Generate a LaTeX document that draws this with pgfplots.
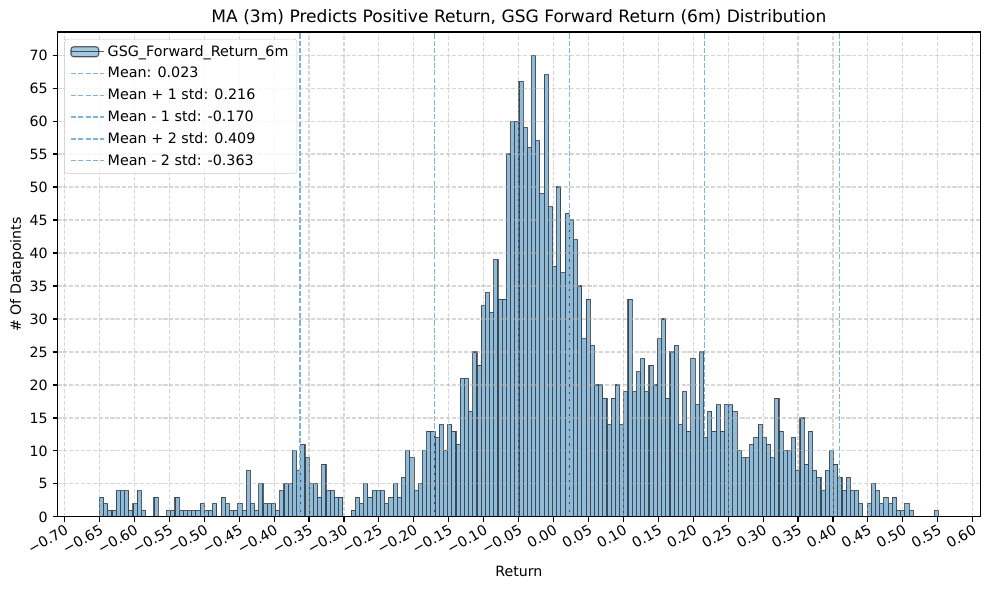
\documentclass[border=0pt]{standalone}
\usepackage{pgfplots}
\pgfplotsset{compat=1.18}
\usepackage{pgfplotstable}
\usepackage{fontspec}
\setmainfont{DejaVu Sans}

\definecolor{barfill}{HTML}{8FBBD9}
\definecolor{meanblue}{HTML}{80B3D9}
\definecolor{gridgray}{HTML}{B0B0B0}
\definecolor{legframe}{HTML}{CCCCCC}

% 200 bins of width 0.006005 starting at -0.650; last row closes the final interval
\pgfplotstableread{
count
3
2
1
1
4
4
4
1
2
4
1
0
0
3
0
0
1
1
3
1
1
1
1
1
2
1
1
2
0
3
2
1
1
2
1
7
2
1
5
2
2
2
1
4
5
5
10
7
11
9
5
5
3
8
4
4
3
3
0
0
1
3
2
5
3
4
4
4
2
3
5
3
6
10
9
4
5
10
13
13
12
14
10
14
13
11
21
21
16
25
23
32
34
31
39
33
33
55
60
60
66
59
56
70
57
49
67
47
38
50
37
46
45
42
35
27
33
26
20
20
18
14
18
20
14
19
33
19
22
24
19
23
20
27
30
18
25
26
14
19
13
24
17
25
12
16
13
17
13
17
17
16
10
9
9
11
12
14
12
11
9
18
13
10
10
12
7
15
8
13
7
6
4
7
10
8
6
4
6
4
4
2
0
2
5
4
2
3
2
3
1
1
2
1
0
0
0
0
0
1
0
}\histdata

\begin{document}
\begin{tikzpicture}[x=1pt,y=1pt]
\useasboundingbox (-41.4,-52.56) rectangle (670.8,372.24);
\begin{axis}[
  at={(0,0)}, anchor=south west,
  scale only axis, width=664.6pt, height=349.2pt,
  xmin=-0.71005, xmax=0.61105, ymin=0, ymax=73.5,
  axis on top,
  axis line style={line width=0.8pt},
  tick pos=left, tick align=outside,
  major tick length=3.5pt,
  every tick/.style={black, line width=0.8pt},
  xtick={-0.70,-0.65,-0.60,-0.55,-0.50,-0.45,-0.40,-0.35,-0.30,-0.25,-0.20,-0.15,-0.10,-0.05,0.00,0.05,0.10,0.15,0.20,0.25,0.30,0.35,0.40,0.45,0.50,0.55,0.60},
  xticklabels={−0.70,−0.65,−0.60,−0.55,−0.50,−0.45,−0.40,−0.35,−0.30,−0.25,−0.20,−0.15,−0.10,−0.05,0.00,0.05,0.10,0.15,0.20,0.25,0.30,0.35,0.40,0.45,0.50,0.55,0.60},
  ytick={0,5,...,70},
  /pgf/number format/assume math mode=true,
  x tick label style={rotate=30, anchor=north east, font=\fontsize{10.2}{12}\selectfont, inner sep=1pt},
  y tick label style={font=\fontsize{10.2}{12}\selectfont},
  grid=major,
  major grid style={draw=gridgray, draw opacity=0.5, line width=0.8pt, dash pattern=on 2.96pt off 1.28pt},
  title={MA (3m) Predicts Positive Return, GSG Forward Return (6m) Distribution},
  every axis title/.style={at={(axis description cs:0.5,1.031)}, anchor=center, font=\fontsize{12.3}{14}\selectfont},
  xlabel={Return},
  xlabel style={at={(axis description cs:0.5,-0.1134)}, anchor=center, font=\fontsize{10.2}{12}\selectfont},
  ylabel={\# Of Datapoints},
  ylabel style={at={(axis description cs:-0.0439,0.5)}, anchor=center, rotate=0, font=\fontsize{10.2}{12}\selectfont},
  legend style={at={(axis description cs:0.0075,0.986)}, anchor=north west,
    draw=legframe, rounded corners=2pt, fill=white, fill opacity=0.8, text opacity=1, draw opacity=1,
    font=\fontsize{10.3}{12}\selectfont, row sep=2.4pt, inner xsep=4pt, inner ysep=2.5pt},
  legend cell align=left,
  legend image code/.code={\draw[#1] (0pt,0pt) -- (20pt,0pt); \path (0pt,0pt) -- (24pt,0pt);},
  mean/.style={draw=meanblue, line width=1pt, dash pattern=on 3.7pt off 1.6pt},
]
\addplot[ybar interval, fill=barfill, draw=black, draw opacity=0.6, line width=0.8pt,
  legend image code/.code={\draw[fill=barfill, draw=black, draw opacity=0.6, line width=0.8pt] (0pt,-3.6pt) rectangle (20pt,3.6pt); \path (0pt,0pt) -- (24pt,0pt);}]
  table[x expr={-0.650+\coordindex*0.006005}, y=count] {\histdata};
\addlegendentry{GSG\_Forward\_Return\_6m}
\addplot[mean] coordinates {(0.023,0) (0.023,73.5)};
\addlegendentry{Mean: 0.023}
\addplot[mean] coordinates {(0.216,0) (0.216,73.5)};
\addlegendentry{Mean + 1 std: 0.216}
\addplot[mean] coordinates {(-0.170,0) (-0.170,73.5)};
\addlegendentry{Mean - 1 std: -0.170}
\addplot[mean] coordinates {(0.409,0) (0.409,73.5)};
\addlegendentry{Mean + 2 std: 0.409}
\addplot[mean] coordinates {(-0.363,0) (-0.363,73.5)};
\addlegendentry{Mean - 2 std: -0.363}
\end{axis}
\end{tikzpicture}
\end{document}
